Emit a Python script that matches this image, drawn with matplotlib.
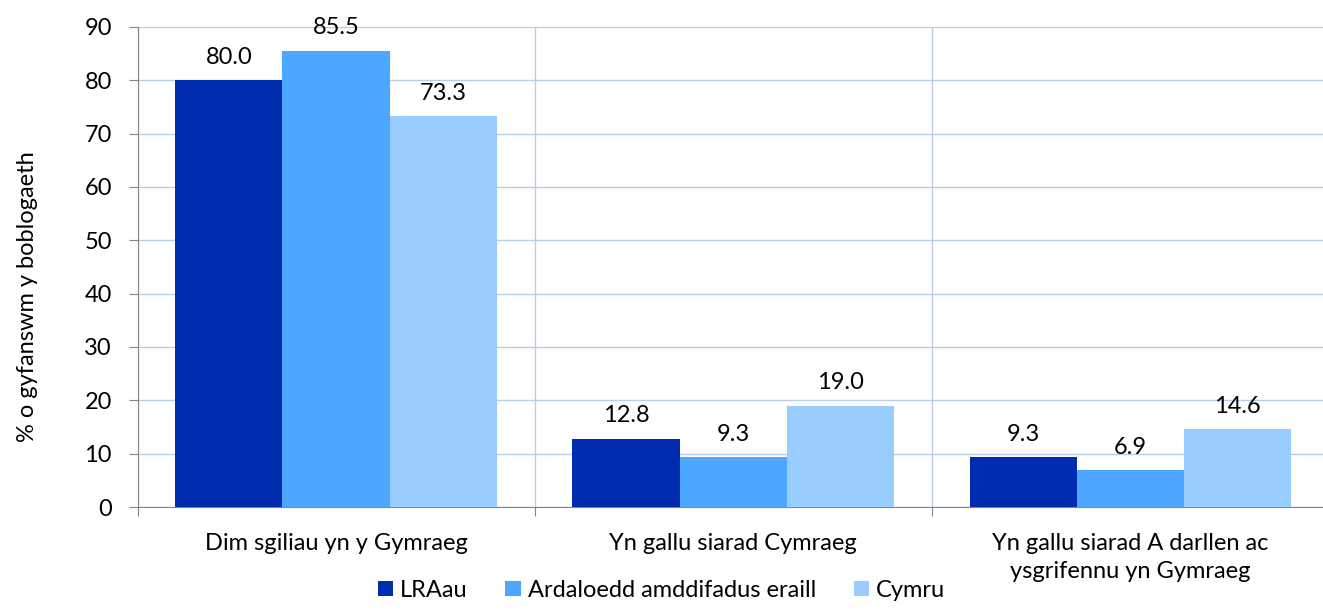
import matplotlib
matplotlib.use('Agg')
import matplotlib.pyplot as plt
import numpy as np

plt.rcParams['font.family'] = ['Lato', 'DejaVu Sans']

categories = ['Dim sgiliau yn y Gymraeg', 'Yn gallu siarad Cymraeg',
              'Yn gallu siarad A darllen ac\nysgrifennu yn Gymraeg']
series_names = ['LRAau', 'Ardaloedd amddifadus eraill', 'Cymru']
lraau = [80.0, 12.8, 9.3]
eraill = [85.5, 9.3, 6.9]
cymru = [73.3, 19.0, 14.6]
colors = ['#002DB0', '#4DA6FF', '#99CCFF']

fs = 17
fig = plt.figure(figsize=(13.23, 6.11), dpi=100)
# axes right edge runs slightly past the figure like the original
ax = fig.add_axes([137.5 / 1323, 1 - 507 / 611, (1329 - 137.5) / 1323, 480 / 611])

x = np.arange(len(categories))
w = 0.27
for i, (vals, name) in enumerate(zip([lraau, eraill, cymru], series_names)):
    pos = x + (i - 1) * w
    ax.bar(pos, vals, width=w, color=colors[i], label=name, zorder=3)
    for px, v in zip(pos, vals):
        ax.annotate(f'{v:.1f}', (px, v), xytext=(0, 9), textcoords='offset points',
                    ha='center', va='bottom', fontsize=fs)

ax.set_xlim(-0.5, 2.5)
ax.set_ylim(0, 90)
ax.set_yticks(range(0, 91, 10))
ax.tick_params(axis='y', labelsize=fs, length=6.5, color='#868686', pad=12)
ax.yaxis.grid(True, color='#B9CDE5', linewidth=1, zorder=0)

ax.set_xticks([-0.5, 0.5, 1.5, 2.5])
ax.set_xticklabels([])
ax.xaxis.grid(True, color='#B9CDE5', linewidth=1, zorder=0)
ax.tick_params(axis='x', length=6.5, color='#868686')
ax.set_xticks(x, minor=True)
ax.set_xticklabels(categories, minor=True, fontsize=fs, linespacing=1.4)
ax.tick_params(axis='x', which='minor', length=0, pad=19)

for s in ['top', 'right']:
    ax.spines[s].set_visible(False)
for s in ['left', 'bottom']:
    ax.spines[s].set_color('#868686')

ax.set_ylabel('% o gyfanswm y boblogaeth', fontsize=fs)
ax.yaxis.set_label_coords(-0.0835, 0.4375)

fig.legend(loc='lower center', bbox_to_anchor=(0.5, -0.018), ncol=3, frameon=False,
           fontsize=fs, handlelength=0.65, handleheight=0.65, handletextpad=0.3,
           columnspacing=1.6)

fig.savefig('out.png', dpi=100)
